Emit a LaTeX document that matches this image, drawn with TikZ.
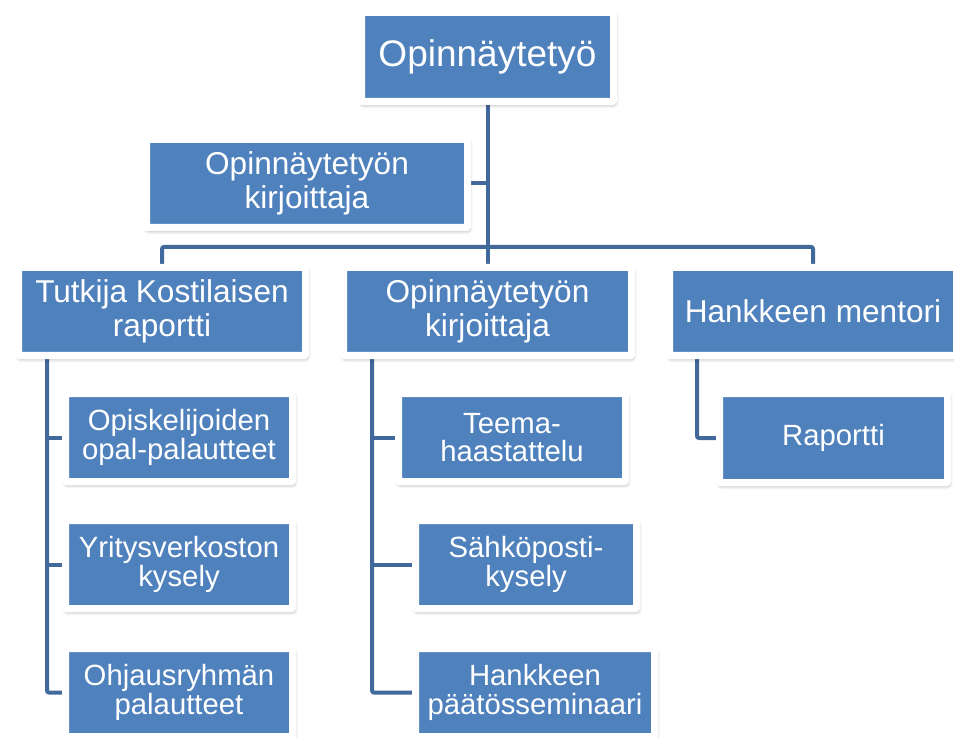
\documentclass[tikz,border=0pt]{standalone}
\usepackage{fontspec}
\setmainfont{Liberation Sans}
\usetikzlibrary{shadows.blur,backgrounds}
\definecolor{boxblue}{HTML}{4F81BD}
\definecolor{linkblue}{HTML}{41699C}
\tikzset{
  box/.style={fill=boxblue, draw=white, line width=7pt, rounded corners=1pt,
    text=white, align=center, inner sep=0pt, minimum height=88pt,
    font=\fontsize{31.6}{34}\selectfont,
    blur shadow={shadow blur steps=8, shadow xshift=1pt, shadow yshift=-2.5pt,
      shadow blur radius=4.5pt, shadow opacity=45}},
  subbox/.style={box, font=\fontsize{29.3}{28.5}\selectfont},
  link/.style={draw=linkblue, line width=4pt, rounded corners=2pt}
}
\begin{document}
\begin{tikzpicture}[x=1pt,y=-1pt]
\useasboundingbox (0,0) rectangle (954,738);
\node[box, minimum width=252pt, minimum height=89pt, font=\fontsize{37}{40}\selectfont] (top) at (487.5,57) {Opinnäytetyö};
\node[box, minimum width=321pt] (asst) at (307,183.5) {Opinnäytetyön\\kirjoittaja};
\node[box, minimum width=287pt] (tutk) at (162,311.5) {Tutkija Kostilaisen\\raportti};
\node[box, minimum width=288pt] (mid) at (487.5,311.5) {Opinnäytetyön\\kirjoittaja};
\node[box, minimum width=287pt] (ment) at (813,311.5) {Hankkeen mentori};
\node[subbox, minimum width=227pt] (opis) at (179,437.5) {Opiskelijoiden\\opal-palautteet};
\node[subbox, minimum width=227pt] (yrit) at (179,564.5) {Yritysverkoston\\kysely};
\node[subbox, minimum width=227pt] (ohja) at (179,692.5) {Ohjausryhmän\\palautteet};
\node[subbox, minimum width=227pt] (teem) at (512,437.5) {Teema-\\haastattelu};
\node[subbox, minimum width=221pt] (sahk) at (526,564.5) {Sähköposti-\\kysely};
\node[subbox, minimum width=239pt] (hank) at (535,692.5) {Hankkeen\\päätösseminaari};
\node[subbox, minimum width=228pt, minimum height=89pt] (rap) at (833.5,438) {Raportti};
\coordinate (bus) at (487.5,247);
\coordinate (lx) at (47,0);
\coordinate (mx) at (372,0);
\coordinate (rx) at (697,0);
\begin{pgfonlayer}{background}
\draw[link] (top.south) -- (mid.north);
\draw[link] (asst.east) -- (asst.east -| top.south);
\draw[link] (tutk.north) |- (bus) -| (ment.north);
\draw[link] (tutk.south -| lx) |- (ohja.west);
\draw[link] (lx |- opis.west) -- (opis.west);
\draw[link] (lx |- yrit.west) -- (yrit.west);
\draw[link] (mid.south -| mx) |- (hank.west);
\draw[link] (mx |- teem.west) -- (teem.west);
\draw[link] (mx |- sahk.west) -- (sahk.west);
\draw[link] (ment.south -| rx) |- (rap.west);
\end{pgfonlayer}
\end{tikzpicture}
\end{document}
